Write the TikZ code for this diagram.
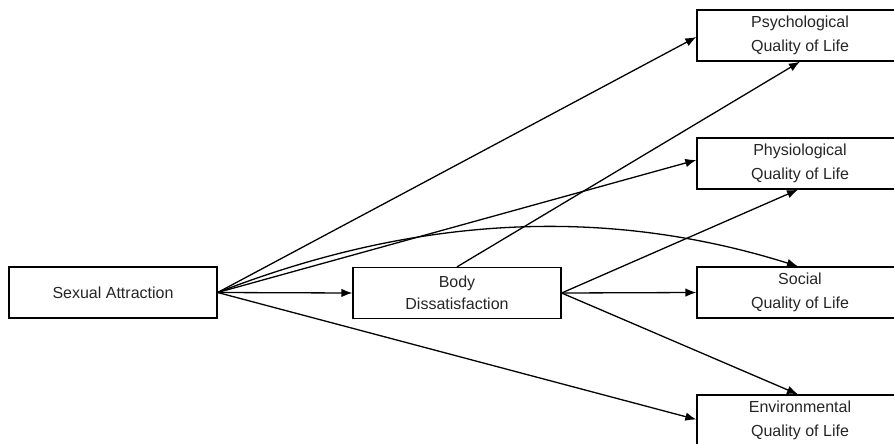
\documentclass[tikz,border=0pt]{standalone}
\usepackage{fontspec}
\setmainfont{Liberation Sans}
\usetikzlibrary{arrows.meta}
\begin{document}
\begin{tikzpicture}[x=1pt,y=-1pt,
  box/.style={draw, line width=1.3pt, minimum width=208pt, minimum height=51pt, inner sep=0pt, align=center,
    font=\fontsize{16}{24}\selectfont, text=black!85},
  rbox/.style={box, minimum width=206pt},
  conn/.style={line width=1.3pt, -{Latex[length=11pt,width=8.5pt]}}]
\useasboundingbox (0,0) rectangle (894,444);
\clip (0,0) rectangle (894,444);
\fill[white] (0,0) rectangle (894,444);
\node[box] (sa) at (113,292.5) {Sexual Attraction};
\node[box, font=\fontsize{16}{22}\selectfont] (bd) at (457,293) {Body\\Dissatisfaction};
\node[rbox] (psy) at (800,35.5) {Psychological\\Quality of Life};
\node[rbox] (phy) at (800,163.5) {Physiological\\Quality of Life};
\node[rbox] (soc) at (800,292.5) {Social\\Quality of Life};
\node[rbox] (env) at (800,420.5) {Environmental\\Quality of Life};
\draw[conn] (sa.east) -- ([yshift=-1.5pt]psy.west);
\draw[conn] (sa.east) -- ([yshift=3.5pt]phy.west);
\draw[conn] (sa.east) -- (bd.west);
\draw[conn] (sa.east) -- ([yshift=1pt]env.west);
\draw[conn] (sa.east) .. controls (430,210) and (618,210) .. ([xshift=-2pt]soc.north);
\draw[conn] (bd.north) -- (psy.south);
\draw[conn] (bd.east) -- ([xshift=-2pt]phy.south);
\draw[conn] (bd.east) -- (soc.west);
\draw[conn] (bd.east) -- ([xshift=-2pt]env.north);
\end{tikzpicture}
\end{document}
